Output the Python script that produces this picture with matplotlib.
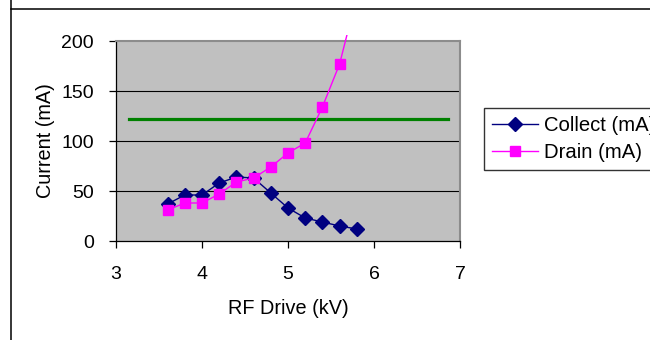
import matplotlib
matplotlib.use("Agg")
import matplotlib.pyplot as plt
from matplotlib.lines import Line2D
from matplotlib.patches import Rectangle

plt.rcParams['font.family'] = ['Liberation Sans', 'DejaVu Sans']

# RF drive (kV) and measured currents (mA)
rf_drive = [3.6, 3.8, 4.0, 4.2, 4.4, 4.6, 4.8, 5.0, 5.2, 5.4, 5.6, 5.8]
collect_ma = [37, 46, 46, 58, 64, 63, 48, 33, 23, 19, 15, 12]
drain_ma = [31, 38, 38, 47, 59, 63, 74, 88, 98, 134, 177, 245]

# Reference level
ref_x = [3.15, 6.86]
ref_ma = [122, 122]

x_ticks = [3, 4, 5, 6, 7]
y_ticks = [0, 50, 100, 150, 200]

W, H = 650, 340
fig = plt.figure(figsize=(W / 100, H / 100), dpi=100)
fig.patch.set_facecolor('white')

# Chart-area border
fig.add_artist(Line2D([11 / W, 11 / W], [0, 1], transform=fig.transFigure,
                      color='black', lw=1.1))
fig.add_artist(Line2D([11 / W, 1], [1 - 9 / H, 1 - 9 / H], transform=fig.transFigure,
                      color='black', lw=1.1))

left, right, top, bottom = 116, 460, 41, 241
ax = fig.add_axes([left / W, 1 - bottom / H, (right - left) / W, (bottom - top) / H])
ax.set_facecolor('#C0C0C0')
ax.set_xlim(3, 7)
ax.set_ylim(0, 200)
ax.set_xticks(x_ticks)
ax.set_yticks(y_ticks)

for y in y_ticks[1:-1]:
    ax.axhline(y, color='black', lw=0.8, zorder=1)

for s in ('left', 'bottom'):
    ax.spines[s].set_color('black')
    ax.spines[s].set_linewidth(0.9)
for s in ('top', 'right'):
    ax.spines[s].set_color('#8C8C8C')
    ax.spines[s].set_linewidth(1.5)

ax.tick_params(axis='both', direction='out', length=5, width=0.9, color='black',
               labelsize=14)
ax.tick_params(axis='x', pad=13)
ax.tick_params(axis='y', pad=11)

ax.plot(ref_x, ref_ma, color='#008000', lw=2.3, zorder=2)

ax.plot(rf_drive, collect_ma, color='#000080', lw=1.0, marker='D',
        markersize=7.3, markerfacecolor='#000080', markeredgecolor='#000080',
        zorder=3, label='Collect (mA)')
drain_line, = ax.plot(rf_drive, drain_ma, color='#FF00FF', lw=1.0, marker='s',
                      markersize=7.5, markerfacecolor='#FF00FF',
                      markeredgecolor='#FF00FF', zorder=4, label='Drain (mA)')
clip = Rectangle((0, 0), 1, 1.03, transform=ax.transAxes, facecolor='none',
                 edgecolor='none')
drain_line.set_clip_path(clip)

ax.set_xlabel('RF Drive (kV)', fontsize=14.3)
ax.xaxis.label.set_va('center')
ax.xaxis.set_label_coords(0.5, (bottom - 309) / (bottom - top))
ax.set_ylabel('Current (mA)', fontsize=14.3)
ax.yaxis.label.set_va('center')
ax.yaxis.set_label_coords((46 - left) / (right - left), 0.5)

leg = fig.legend(handles=[ax.lines[-2], ax.lines[-1]], loc='upper left',
                 bbox_to_anchor=(484 / W, 1 - 108 / H), bbox_transform=fig.transFigure,
                 borderaxespad=0, fontsize=14.6, frameon=True, fancybox=False,
                 shadow=False, handlelength=2.3, handletextpad=0.3,
                 labelspacing=0.42, borderpad=0.38)
leg.get_frame().set_edgecolor('black')
leg.get_frame().set_linewidth(1.0)

fig.savefig('out.png', dpi=100)
